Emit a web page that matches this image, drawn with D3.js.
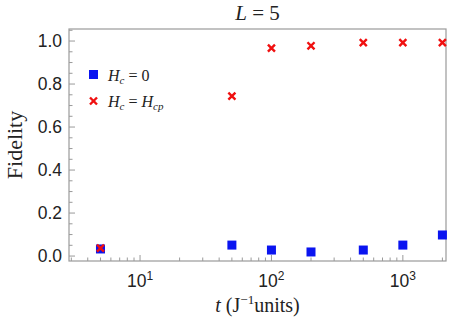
<!DOCTYPE html>
<html>
<head>
<meta charset="utf-8">
<script src="https://cdn.jsdelivr.net/npm/d3@7"></script>
<style>
  body { margin: 0; background: #fff; }
  text { fill: #222; }
</style>
</head>
<body>
<div id="chart"></div>
<script>
// data
const times = [5, 50, 100, 200, 500, 1000, 2000];
const fidelityZero = [0.033, 0.051, 0.028, 0.019, 0.028, 0.051, 0.098];
const fidelityCp = [0.037, 0.744, 0.967, 0.978, 0.993, 0.993, 0.993];
const yTicks = [0, 0.2, 0.4, 0.6, 0.8, 1.0];
const xTicks = [10, 100, 1000];

const W = 449, H = 328;
const margin = { top: 29, right: 3, bottom: 67, left: 69 },
      width = W - margin.left - margin.right,
      height = H - margin.top - margin.bottom;

const svg = d3.select("#chart").append("svg")
  .attr("width", W).attr("height", H);

const g = svg.append("g")
  .attr("transform", `translate(${margin.left},${margin.top})`);

const x = d3.scaleLog().domain([2.88, 2130]).range([0, width]);
const y = d3.scaleLinear().domain([-0.023, 1.056]).range([height, 0]);

const frame = "#9a9a9a";

// minor ticks
const xMinor = [];
for (let e = 0; e <= 3; e++) for (let m = 1; m <= 9; m++) {
  const v = m * Math.pow(10, e);
  if (v >= x.domain()[0] && v <= x.domain()[1]) xMinor.push(v);
}
const yMinor = d3.range(0, 1.051, 0.05);

g.selectAll(".xminor").data(xMinor).join("line")
  .attr("x1", d => x(d)).attr("x2", d => x(d))
  .attr("y1", height).attr("y2", d => xTicks.includes(d) ? height - 6 : height - 3.5)
  .attr("stroke", frame);

g.selectAll(".yminor").data(yMinor).join("line")
  .attr("y1", d => y(d)).attr("y2", d => y(d))
  .attr("x1", 0)
  .attr("x2", d => yTicks.some(t => Math.abs(t - d) < 1e-6) ? 6 : 3.5)
  .attr("stroke", frame);

// frame
g.append("rect")
  .attr("width", width).attr("height", height)
  .attr("fill", "none").attr("stroke", frame).attr("stroke-width", 1.2);

// tick labels
g.selectAll(".ylab").data(yTicks).join("text")
  .attr("x", -7).attr("y", d => y(d))
  .attr("dy", "0.36em")
  .attr("text-anchor", "end")
  .style("font-family", "Liberation Sans, Arial, sans-serif")
  .style("font-size", "17.5px")
  .text(d3.format(".1f"));

const xl = g.selectAll(".xlab").data(xTicks).join("text")
  .attr("x", d => x(d)).attr("y", height + 26)
  .attr("text-anchor", "middle")
  .style("font-family", "Liberation Sans, Arial, sans-serif")
  .style("font-size", "17.5px");
xl.append("tspan").text("10");
xl.append("tspan").attr("dy", -7).style("font-size", "12px")
  .text(d => Math.round(Math.log10(d)));

// markers
const sq = 9;
g.selectAll(".blue").data(times.map((t, i) => [t, fidelityZero[i]])).join("rect")
  .attr("x", d => x(d[0]) - sq / 2).attr("y", d => y(d[1]) - sq / 2)
  .attr("width", sq).attr("height", sq)
  .attr("fill", "#0a14f0");

const cross = d3.symbol().type(d3.symbolX).size(34);
g.selectAll(".red").data(times.map((t, i) => [t, fidelityCp[i]])).join("path")
  .attr("d", cross)
  .attr("transform", d => `translate(${x(d[0])},${y(d[1])})`)
  .attr("stroke", "#f01010").attr("stroke-width", 2.4).attr("fill", "none");

// legend
const lserif = "'DejaVu Serif', 'Liberation Serif', serif";
svg.append("rect").attr("x", 89).attr("y", 70).attr("width", sq).attr("height", sq)
  .attr("fill", "#0a14f0");
svg.append("path").attr("d", cross)
  .attr("transform", "translate(93.5,101)")
  .attr("stroke", "#f01010").attr("stroke-width", 2.4).attr("fill", "none");

const ls = "'Liberation Serif', 'Times New Roman', serif";
const leg1 = svg.append("text").attr("x", 108).attr("y", 81)
  .style("font-family", ls).style("font-size", "16px");
leg1.append("tspan").style("font-style", "italic").text("H");
leg1.append("tspan").style("font-style", "italic").style("font-size", "11px").attr("dy", 3).text("c");
leg1.append("tspan").attr("dy", -3).text(" = 0");

const leg2 = svg.append("text").attr("x", 108).attr("y", 107)
  .style("font-family", ls).style("font-size", "16px");
leg2.append("tspan").style("font-style", "italic").text("H");
leg2.append("tspan").style("font-style", "italic").style("font-size", "11px").attr("dy", 3).text("c");
leg2.append("tspan").attr("dy", -3).text(" = ");
leg2.append("tspan").style("font-style", "italic").text("H");
leg2.append("tspan").style("font-style", "italic").style("font-size", "11px").attr("dy", 3).text("cp");

// title
const title = svg.append("text").attr("x", margin.left + width / 2).attr("y", 20)
  .attr("text-anchor", "middle")
  .style("font-family", ls).style("font-size", "21px");
title.append("tspan").style("font-style", "italic").text("L");
title.append("tspan").text(" = 5");

// axis labels
svg.append("text")
  .attr("transform", `translate(22,${margin.top + height / 2}) rotate(-90)`)
  .attr("text-anchor", "middle")
  .style("font-family", ls).style("font-size", "22px")
  .text("Fidelity");

const xlabel = svg.append("text").attr("x", margin.left + width / 2).attr("y", 312)
  .attr("text-anchor", "middle")
  .style("font-family", ls).style("font-size", "20px");
xlabel.append("tspan").style("font-style", "italic").text("t");
xlabel.append("tspan").text(" (J");
xlabel.append("tspan").attr("dy", -8).style("font-size", "13px").text("\u22121");
xlabel.append("tspan").attr("dy", 8).text("units)");
</script>
</body>
</html>
